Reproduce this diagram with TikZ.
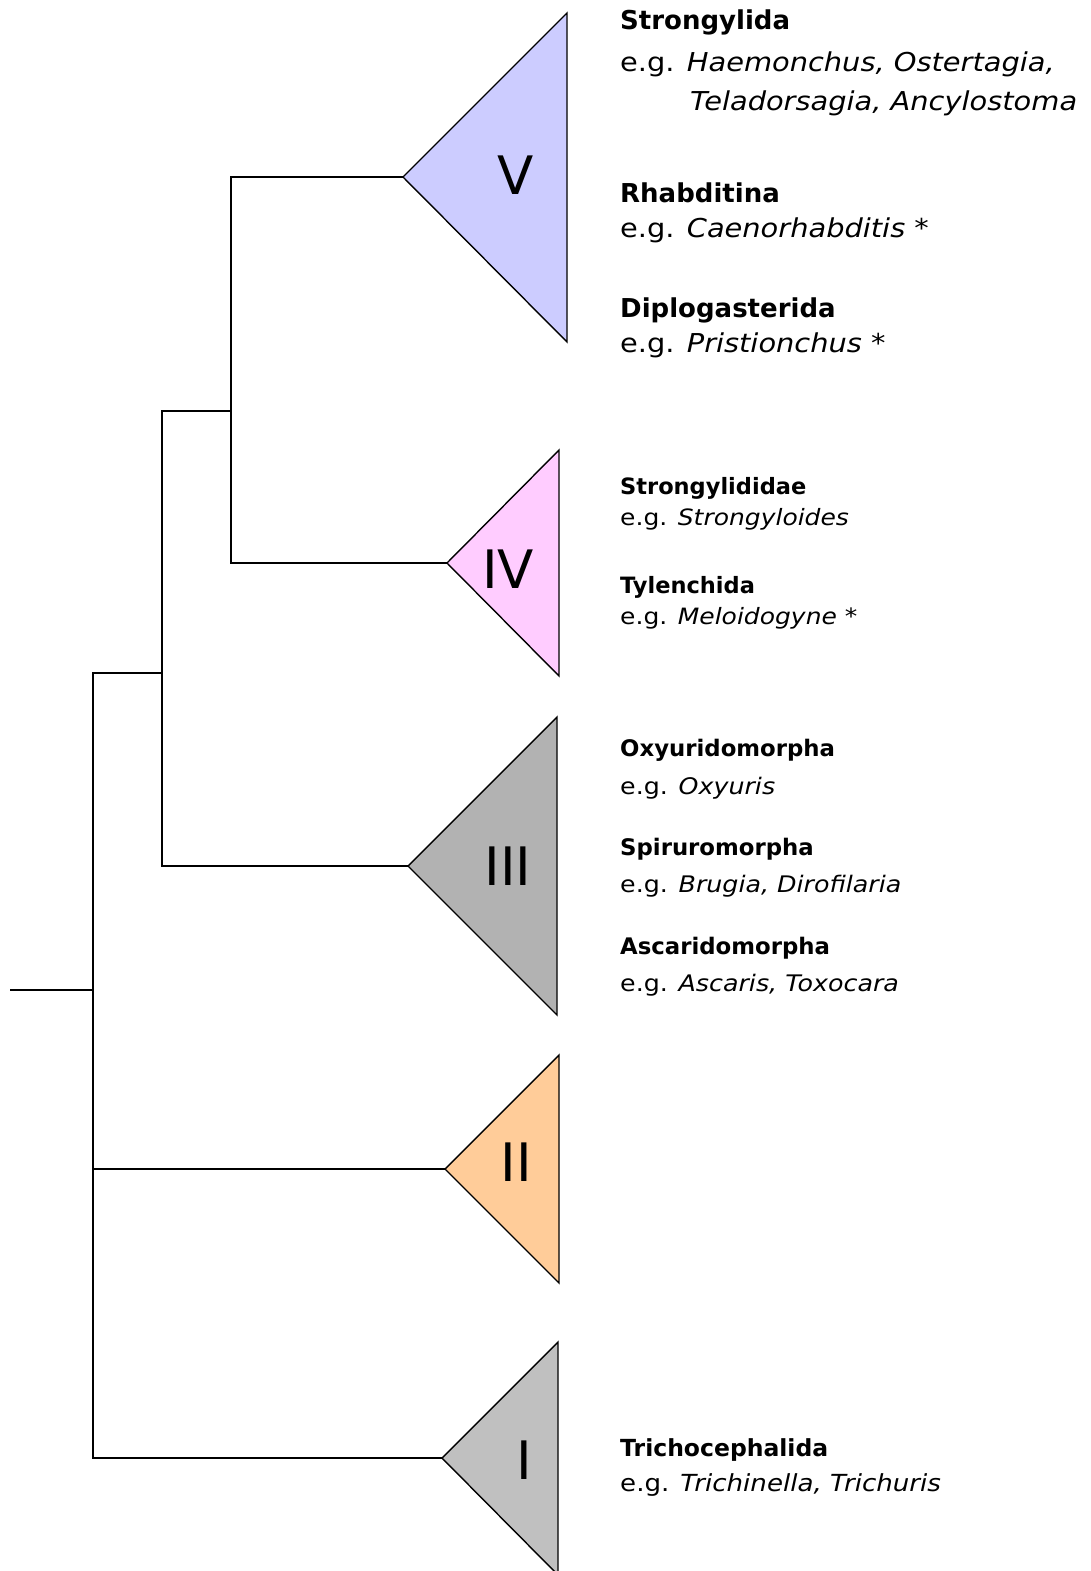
\documentclass[tikz,border=0pt]{standalone}
\usepackage{fontspec}
\setmainfont{DejaVu Sans}
% the example lines are set a little wider than the clade names
\newfontfamily\exfont{DejaVu Sans}[FakeStretch=1.11]
\begin{document}
\begin{tikzpicture}[x=1pt,y=-1pt,
  branch/.style={draw=black,line width=1.4pt,line join=miter},
  clade/.style={draw=black,line width=1.4pt,line join=miter},
  roman/.style={font=\fontsize{53}{60}\selectfont,inner sep=0pt},
  taxonV/.style={anchor=base west,inner sep=0pt,font=\fontsize{26}{30}\selectfont},
  taxonIV/.style={anchor=base west,inner sep=0pt,font=\fontsize{22.5}{26}\selectfont},
  taxonIII/.style={anchor=base west,inner sep=0pt,font=\fontsize{22.8}{27}\selectfont},
  taxonI/.style={anchor=base west,inner sep=0pt,font=\fontsize{23.5}{27}\selectfont}]
\definecolor{cladeV}{HTML}{CCCCFF}
\definecolor{cladeIV}{HTML}{FFCCFF}
\definecolor{cladeIII}{HTML}{B2B2B2}
\definecolor{cladeII}{HTML}{FFCC99}
\definecolor{cladeI}{HTML}{C0C0C0}
\useasboundingbox (0,0) rectangle (1090,1571);

% clade apices
\coordinate (tipV)   at (403,177);
\coordinate (tipIV)  at (447,563);
\coordinate (tipIII) at (408,866);
\coordinate (tipII)  at (445,1169);
\coordinate (tipI)   at (442,1458);

% clade triangles
\draw[clade,fill=cladeV]   (tipV)   -- (567,13)   -- (567,342)  -- cycle;
\draw[clade,fill=cladeIV]  (tipIV)  -- (559,450)  -- (559,676)  -- cycle;
\draw[clade,fill=cladeIII] (tipIII) -- (557,717)  -- (557,1015) -- cycle;
\draw[clade,fill=cladeII]  (tipII)  -- (559,1055) -- (559,1283) -- cycle;
\draw[clade,fill=cladeI]   (tipI)   -- (558,1342) -- (558,1575) -- cycle;

% internal nodes of the tree
\coordinate (root) at (10,990);
\coordinate (n1) at (93,990);
\coordinate (n2) at (162,673);
\coordinate (n3) at (231,411);

% tree branches
\draw[branch] (root) -- (n1);
\draw[branch] (n2) -- (n1 |- n2) -- (n1 |- tipI) -- (tipI);
\draw[branch] (n1 |- tipII) -- (tipII);
\draw[branch] (n3) -- (n2 |- n3) -- (n2 |- tipIII) -- (tipIII);
\draw[branch] (tipV) -- (n3 |- tipV) -- (n3 |- tipIV) -- (tipIV);

% clade numerals
\node[roman] (labV)   at (516,175)  {V};
\node[roman] (labIV)  at (508,569)  {IV};
\node[roman] (labIII) at (508,866)  {III};
\node[roman] (labII)  at (516,1162) {II};
\node[roman] (labI)   at (524,1460) {I};

% clade V taxa
\node[taxonV] (strongylida) at (620,30)  {\textbf{Strongylida}};
\node[taxonV] (strongylidaEx) at (620,71) {\exfont e.g. \textit{Haemonchus, Ostertagia,}};
\node[taxonV] (strongylidaEx2) at (690,110) {\exfont\textit{Teladorsagia, Ancylostoma}};
\node[taxonV] (rhabditina) at (620,202) {\textbf{Rhabditina}};
\node[taxonV] (rhabditinaEx) at (620,237) {\exfont e.g. \textit{Caenorhabditis *}};
\node[taxonV] (diplogasterida) at (620,317) {\textbf{Diplogasterida}};
\node[taxonV] (diplogasteridaEx) at (620,352) {\exfont e.g. \textit{Pristionchus *}};

% clade IV taxa
\node[taxonIV] (strongylididae) at (620,494) {\textbf{Strongylididae}};
\node[taxonIV] (strongylididaeEx) at (620,525) {\exfont e.g. \textit{Strongyloides}};
\node[taxonIV] (tylenchida) at (620,593) {\textbf{Tylenchida}};
\node[taxonIV] (tylenchidaEx) at (620,624) {\exfont e.g. \textit{Meloidogyne *}};

% clade III taxa
\node[taxonIII] (oxyurido) at (620,756) {\textbf{Oxyuridomorpha}};
\node[taxonIII] (oxyuridoEx) at (620,794) {\exfont e.g. \textit{Oxyuris}};
\node[taxonIII] (spiruro) at (620,855) {\textbf{Spiruromorpha}};
\node[taxonIII] (spiruroEx) at (620,892) {\exfont e.g. \textit{Brugia, Dirofilaria}};
\node[taxonIII] (ascarido) at (620,954) {\textbf{Ascaridomorpha}};
\node[taxonIII] (ascaridoEx) at (620,991) {\exfont e.g. \textit{Ascaris, Toxocara}};

% clade I taxa
\node[taxonI] (tricho) at (620,1456) {\textbf{Trichocephalida}};
\node[taxonI] (trichoEx) at (620,1491) {\exfont e.g. \textit{Trichinella, Trichuris}};
\end{tikzpicture}
\end{document}
